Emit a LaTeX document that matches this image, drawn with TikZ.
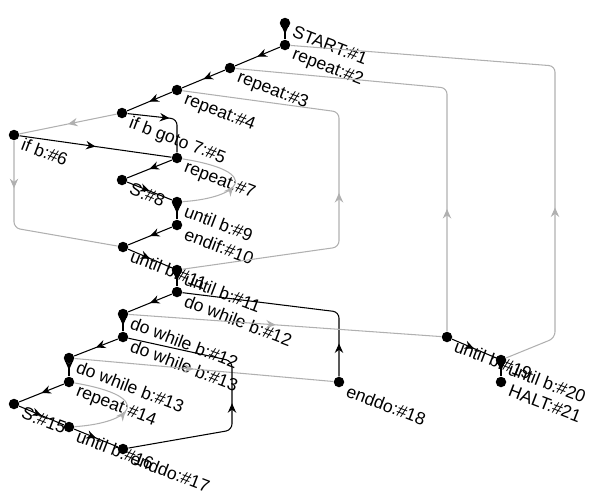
\documentclass[tikz,border=0pt]{standalone}
\usepackage{fontspec}
\setmainfont{Liberation Sans}
\usepackage{xcolor}
\usepackage{tikz}
\usetikzlibrary{arrows.meta,decorations.markings}
\definecolor{CfgBack}{HTML}{B0B0B0}

\begin{document}
\begin{tikzpicture}[x=0.02cm,y=-0.02cm,
  vtx/.style={circle,fill=black,inner sep=0pt,minimum size=0.21cm},
  lbl/.style={anchor=north west,rotate=-21,inner sep=0.6pt,xshift=2.4pt,yshift=0.6pt,font=\fontsize{10}{12}\selectfont},
  flow/.style={line width=0.6pt,rounded corners=3.5pt,postaction={decorate},
    decoration={markings,mark=at position #1 with {\arrow{Stealth[length=5.4pt,width=4.8pt,inset=1.8pt]}}}},
  flow/.default=0.5,
  fwd/.style={flow=#1,color=black},
  fwd/.default=0.5,
  back/.style={flow=#1,color=CfgBack},
  back/.default=0.5]
\path[use as bounding box] (0,0) rectangle (598,498);
\node[vtx] (n1) at (285,23) {};
\node[vtx] (n2) at (285,45) {};
\node[vtx] (n3) at (230,68) {};
\node[vtx] (n4) at (177,90) {};
\node[vtx] (n5) at (122,113) {};
\node[vtx] (n6) at (14,135) {};
\node[vtx] (n7) at (177,158) {};
\node[vtx] (n8) at (122,180) {};
\node[vtx] (n9) at (177,202) {};
\node[vtx] (n10) at (177,225) {};
\node[vtx] (n11a) at (123,247) {};
\node[vtx] (n11b) at (177,270) {};
\node[vtx] (n12a) at (177,292) {};
\node[vtx] (n12b) at (123,314) {};
\node[vtx] (n13a) at (123,337) {};
\node[vtx] (n13b) at (69,358) {};
\node[vtx] (n14) at (69,382) {};
\node[vtx] (n15) at (14,404) {};
\node[vtx] (n16) at (69,427) {};
\node[vtx] (n17) at (123,449) {};
\node[vtx] (n18) at (339,382) {};
\node[vtx] (n19) at (447,337) {};
\node[vtx] (n20) at (501,360) {};
\node[vtx] (n21) at (501,382) {};
\node[lbl] (t1) at (n1.east) {START:\#1};
\node[lbl] (t2) at (n2.east) {repeat:\#2};
\node[lbl] (t3) at (n3.east) {repeat:\#3};
\node[lbl] (t4) at (n4.east) {repeat:\#4};
\node[lbl] (t5) at (n5.east) {if b goto 7:\#5};
\node[lbl] (t6) at (n6.east) {if b:\#6};
\node[lbl] (t7) at (n7.east) {repeat:\#7};
\node[lbl] (t8) at (n8.east) {S:\#8};
\node[lbl] (t9) at (n9.east) {until b:\#9};
\node[lbl] (t10) at (n10.east) {endif:\#10};
\node[lbl] (t11a) at (n11a.east) {until b:\#11};
\node[lbl] (t11b) at (n11b.east) {until b:\#11};
\node[lbl] (t12a) at (n12a.east) {do while b:\#12};
\node[lbl] (t12b) at (n12b.east) {do while b:\#12};
\node[lbl] (t13a) at (n13a.east) {do while b:\#13};
\node[lbl] (t13b) at (n13b.east) {do while b:\#13};
\node[lbl] (t14) at (n14.east) {repeat:\#14};
\node[lbl] (t15) at (n15.east) {S:\#15};
\node[lbl] (t16) at (n16.east) {until b:\#16};
\node[lbl] (t17) at (n17.east) {enddo:\#17};
\node[lbl] (t18) at (n18.east) {enddo:\#18};
\node[lbl] (t19) at (n19.east) {until b:\#19};
\node[lbl] (t20) at (n20.east) {until b:\#20};
\node[lbl] (t21) at (n21.east) {HALT:\#21};
\draw[fwd] (n1) -- (n2);
\draw[fwd] (n2) -- (n3);
\draw[fwd] (n3) -- (n4);
\draw[fwd] (n4) -- (n5);
\draw[back] (n5) -- (n6);
\draw[fwd=0.52] (n5) -- (177,119) -- (n7);
\draw[fwd] (n6) -- (n7);
\draw[back=0.25] (n6) -- (14,228) -- (n11a);
\draw[fwd] (n7) -- (n8);
\draw[fwd] (n8) -- (n9);
\draw[back=0.45] (n9) .. controls (240,198) and (265,172) .. (n7);
\draw[fwd] (n9) -- (n10);
\draw[fwd] (n10) -- (n11a);
\draw[fwd] (n11a) -- (n11b);
\draw[fwd] (n11b) -- (n12a);
\draw[back=0.47] (n11b) -- (339,247) -- (339,112) -- (n4);
\draw[fwd] (n12a) -- (n12b);
\draw[fwd=0.15] (n18) -- (339,312) -- (n12a);
\draw[back=0.47] (n12b) -- (n19);
\draw[fwd] (n12b) -- (n13a);
\draw[fwd] (n13a) -- (n13b);
\draw[back=0.46] (n13b) -- (n18);
\draw[fwd] (n13b) -- (n14);
\draw[fwd] (n14) -- (n15);
\draw[fwd] (n15) -- (n16);
\draw[back=0.45] (n16) .. controls (132,423) and (157,397) .. (n14);
\draw[fwd] (n16) -- (n17);
\draw[fwd=0.47] (n17) -- (232,430) -- (232,361) -- (n13a);
\draw[back=0.27] (n19) -- (447,88) -- (n3);
\draw[fwd] (n19) -- (n20);
\draw[fwd] (n20) -- (n21);
\draw[back=0.31] (n20) -- (555,338) -- (555,66) -- (n2);
\end{tikzpicture}
\end{document}
